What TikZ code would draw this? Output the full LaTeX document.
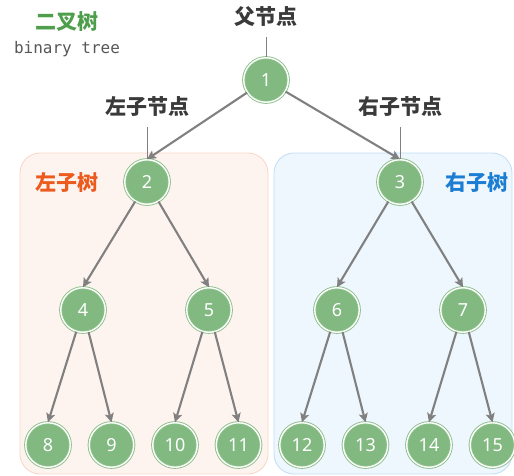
\documentclass[tikz,border=0pt]{standalone}
\usepackage{fontspec}
\setsansfont{Noto Sans}
\setmonofont{DejaVu Sans Mono}
\newfontfamily\cjk{Noto Sans CJK SC}
\usetikzlibrary{arrows.meta,positioning}
\definecolor{ink}{HTML}{3A3A3A}
\definecolor{leaf}{HTML}{82B981}
\definecolor{ring}{HTML}{8CC08A}
\definecolor{edgegray}{HTML}{808080}
\definecolor{title}{HTML}{4F9E4C}
\definecolor{lfill}{HTML}{FEF4EF}
\definecolor{lline}{HTML}{F9D8C8}
\definecolor{ltext}{HTML}{EC5A1E}
\definecolor{rfill}{HTML}{EEF6FE}
\definecolor{rline}{HTML}{C4DFF7}
\definecolor{rtext}{HTML}{1C7ED2}
\tikzset{
  tnode/.style={circle,fill=leaf,draw=ring,double=white,double distance=1.4pt,line width=0.9pt,minimum size=44.5pt,inner sep=0pt,text=white,font=\sffamily\fontsize{18}{18}\selectfont},
  edge/.style={-{Stealth[length=9pt,width=9pt,inset=2pt]},draw=edgegray,line width=2.1pt},
  tick/.style={draw=edgegray,line width=0.8pt},
  lab/.style={font=\cjk\bfseries\fontsize{21}{21}\selectfont,text=ink,inner xsep=0pt,inner ysep=8pt,text height=16pt,text depth=4pt},
  sub/.style={rounded corners=20pt,line width=0.9pt},
}
\begin{document}
\begin{tikzpicture}[x=1pt,y=-1pt]
\useasboundingbox (0,0) rectangle (514,476);
% subtree panels
\path[sub,fill=lfill,draw=lline] (20,153) rectangle (268,474);
\path[sub,fill=rfill,draw=rline] (274,153) rectangle (512,474);
% titles
\node[font=\cjk\bfseries\fontsize{21}{21}\selectfont,text=title] (ttl) at (67,22) {二叉树};
\node[font=\ttfamily\fontsize{16}{16}\selectfont,text=ink!85] (sub) at (67,49) {binary tree};
\node[font=\cjk\bfseries\fontsize{21}{21}\selectfont,text=ltext] (ltree) at (67,183) {左子树};
\node[font=\cjk\bfseries\fontsize{21}{21}\selectfont,text=rtext] (rtree) at (477,183) {右子树};
% tree nodes
\node[tnode] (n1) at (266,80) {1};
\node[tnode] (n2) at (147,182) {2};
\node[tnode] (n3) at (400,182) {3};
\node[tnode] (n4) at (83,310) {4};
\node[tnode] (n5) at (209,310) {5};
\node[tnode] (n6) at (337,310) {6};
\node[tnode] (n7) at (463,310) {7};
\node[tnode] (n8) at (48,445) {8};
\node[tnode] (n9) at (111.5,445) {9};
\node[tnode] (n10) at (175,445) {10};
\node[tnode] (n11) at (238.5,445) {11};
\node[tnode] (n12) at (302,445) {12};
\node[tnode] (n13) at (365.5,445) {13};
\node[tnode] (n14) at (429,445) {14};
\node[tnode] (n15) at (492.5,445) {15};
% callouts
\node[lab] (plab) at (266,19) {父节点};
\node[lab] (llab) at (147,109) {左子节点};
\node[lab] (rlab) at (400,109) {右子节点};
\draw[tick] (plab.south)--(n1.north);
\draw[tick] (llab.south)--(n2.north);
\draw[tick] (rlab.south)--(n3.north);
% edges
\draw[edge] (n1)--(n2.north); \draw[edge] (n1)--(n3.north);
\draw[edge] (n2)--(n4.north); \draw[edge] (n2)--(n5.north);
\draw[edge] (n3)--(n6.north); \draw[edge] (n3)--(n7.north);
\draw[edge] (n4)--(n8.north); \draw[edge] (n4)--(n9.north);
\draw[edge] (n5)--(n10.north); \draw[edge] (n5)--(n11.north);
\draw[edge] (n6)--(n12.north); \draw[edge] (n6)--(n13.north);
\draw[edge] (n7)--(n14.north); \draw[edge] (n7)--(n15.north);
\end{tikzpicture}
\end{document}
